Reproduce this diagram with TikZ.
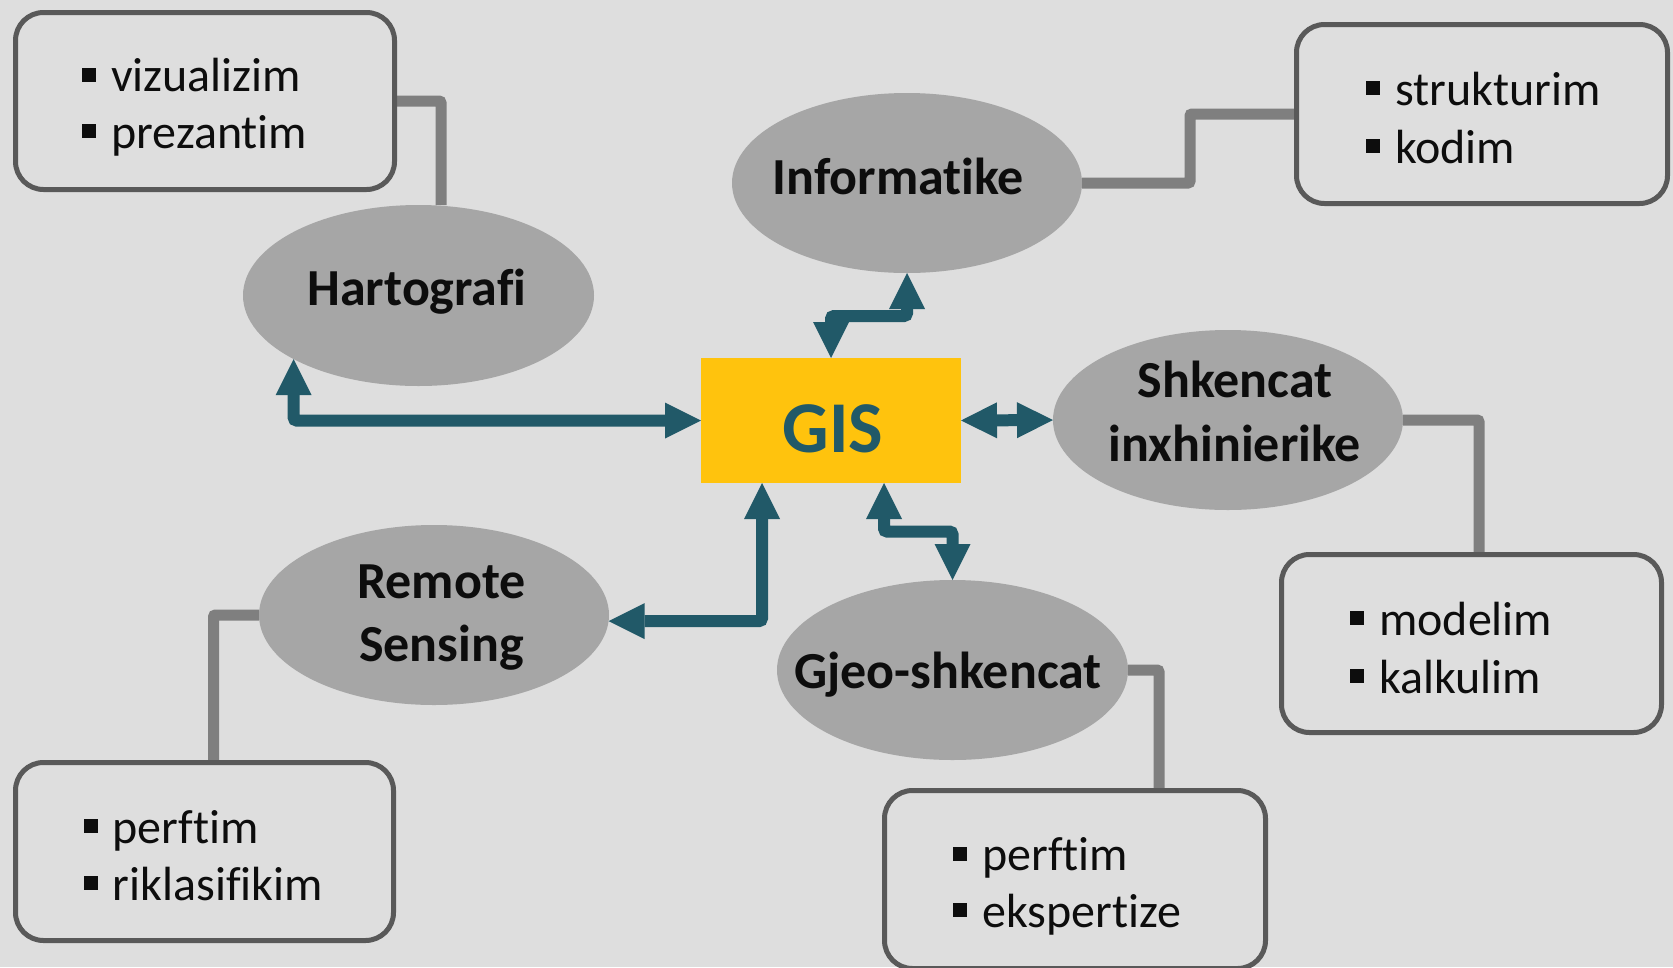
\documentclass[tikz,border=0pt]{standalone}
\usepackage{fontspec}
\setmainfont{Carlito}[Ligatures=CommonOff]
\usetikzlibrary{shapes.geometric,arrows.meta}
\definecolor{bgc}{RGB}{222,222,222}
\definecolor{ellc}{RGB}{166,166,166}
\definecolor{boxc}{RGB}{89,89,89}
\definecolor{conc}{RGB}{127,127,127}
\definecolor{tealc}{RGB}{33,89,104}
\definecolor{gisc}{RGB}{255,195,13}
\definecolor{txtc}{RGB}{13,13,13}
\pgfdeclarelayer{bg}\pgfdeclarelayer{fg}\pgfsetlayers{bg,main,fg}
\newcommand\sqb{\rule[10pt]{14pt}{14pt}\hspace{15pt}}
\begin{document}
\begin{tikzpicture}[x=1pt,y=-1pt,
  oval/.style={ellipse, fill=ellc, inner sep=0pt, outer sep=0pt},
  box/.style={rectangle, rounded corners=28pt, draw=boxc, line width=5pt, fill=bgc, inner sep=0pt, outer sep=0pt},
  lab/.style={font=\fontsize{52}{63}\selectfont\bfseries, text=txtc, inner sep=0pt, anchor=base},
  item/.style={font=\fontsize{48}{57}\selectfont, text=txtc, inner sep=0pt, anchor=base west},
  con/.style={draw=conc, line width=11pt, rounded corners=2pt},
  arr/.style={draw=tealc, line width=12pt, rounded corners=3pt,
    {Triangle[length=36pt,width=36pt,line width=0pt]}-{Triangle[length=36pt,width=36pt,line width=0pt]}}
]
\begin{pgfonlayer}{bg}
\fill[bgc] (0,0) rectangle (1673,967);
\end{pgfonlayer}
\useasboundingbox (0,0) rectangle (1673,967);

% ellipses
\node[oval, minimum width=351pt, minimum height=181pt] (hart) at (418.5,295.5) {};
\node[oval, minimum width=350pt, minimum height=180pt] (inf) at (907,183) {};
\node[oval, minimum width=350pt, minimum height=180pt] (shk) at (1228,420) {};
\node[oval, minimum width=351pt, minimum height=180pt] (gjeo) at (952.5,670) {};
\node[oval, minimum width=350pt, minimum height=180pt] (rem) at (434,615) {};

\node[lab] (hartT) at (417,305) {Hartografi};
\node[lab] (infT) at (898.3,194) {Informatike};
\node[lab] (shkT1) at (1235,397.7) {Shkencat};
\node[lab] (shkT2) at (1234.7,461) {inxhinierike};
\node[lab] (gjeoT) at (948,688.3) {Gjeo-shkencat};
\node[lab] (remT1) at (441.5,598.3) {Remote};
\node[lab] (remT2) at (441.5,661.7) {Sensing};

% GIS
\node[rectangle, fill=gisc, minimum width=260pt, minimum height=125pt, inner sep=0pt, outer sep=0pt] (gis) at (831,420.5) {};
\node[font=\fontsize{73}{80}\selectfont\bfseries, text=tealc, inner sep=0pt, anchor=base] (gisT) at (833,452) {GIS};

% boxes
\node[box, minimum width=379pt, minimum height=177pt] (b1) at (205,101) {};
\node[box, minimum width=371pt, minimum height=179pt] (b2) at (1482,114) {};
\node[box, minimum width=380pt, minimum height=178pt] (b3) at (1471.5,643.5) {};
\node[box, minimum width=381pt, minimum height=178pt] (b4) at (1075,879.5) {};
\node[box, minimum width=378pt, minimum height=178pt] (b5) at (204.5,851.5) {};

\node[item] (b1a) at (82,91.7) {\sqb vizualizim};
\node[item] (b1b) at (82,148.3) {\sqb prezantim};
\node[item] (b2a) at (1366,105) {\sqb strukturim};
\node[item] (b2b) at (1366,163.3) {\sqb kodim};
\node[item] (b3a) at (1350,635) {\sqb modelim};
\node[item] (b3b) at (1350,693.3) {\sqb kalkulim};
\node[item] (b4a) at (953,870.7) {\sqb perftim};
\node[item] (b4b) at (953,927.3) {\sqb ekspertize};
\node[item] (b5a) at (83.5,843.3) {\sqb perftim};
\node[item] (b5b) at (83.5,900) {\sqb riklasifikim};

% gray connectors
\begin{pgfonlayer}{bg}
\draw[con] (b1.east) -| ([xshift=22.5pt]hart.north);
\draw[con] (inf.east) -- ++(108,0) |- (b2.west);
\draw[con] (shk.east) -| ([xshift=7.5pt]b3.north);
\draw[con] (gjeo.east) -| ([xshift=84pt]b4.north);
\draw[con] (rem.west) -| ([xshift=9pt]b5.north);
\end{pgfonlayer}

% teal arrows
\begin{pgfonlayer}{fg}
\draw[arr] (hart.207) |- (gis.west);
\draw[arr] (rem.-2.3) -| ([xshift=61pt]gis.south west);
\draw[arr] (gis.north) -- ++(0,-42) -| (inf.south);
\draw[arr] (gis.east) -- (shk.west);
\draw[arr] ([xshift=-77pt]gis.south east) -- ++(0,48.5) -| (gjeo.north);
\end{pgfonlayer}
\end{tikzpicture}
\end{document}
